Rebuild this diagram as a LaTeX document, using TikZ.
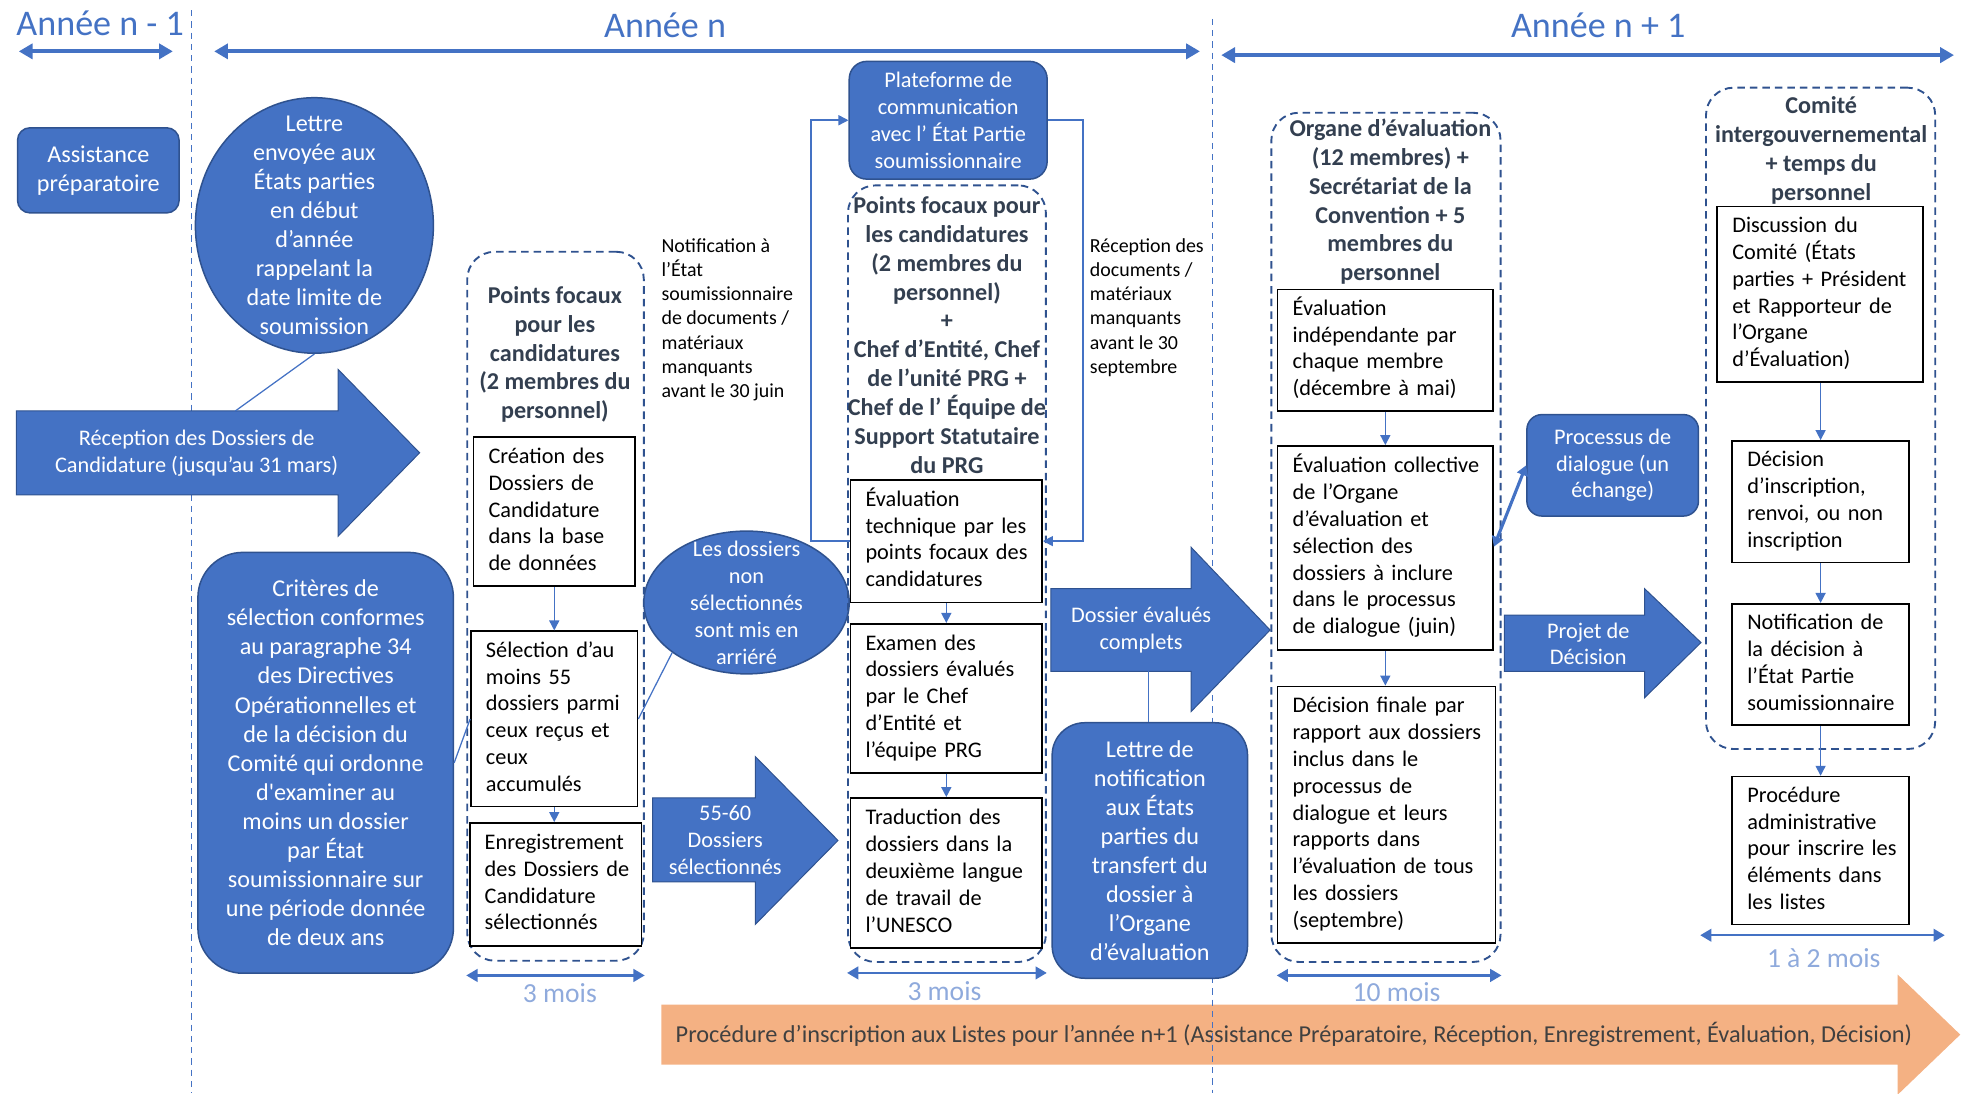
\documentclass[tikz,border=0pt]{standalone}
\usepackage{fontspec}
\setmainfont{Carlito}
\usetikzlibrary{arrows.meta,shapes.geometric}
\definecolor{ublue}{HTML}{4472C4}
\definecolor{udark}{HTML}{2F528F}
\definecolor{utitle}{HTML}{333F50}
\definecolor{ulight}{HTML}{8FAADC}
\definecolor{uorange}{HTML}{F4B183}
\definecolor{ugray}{HTML}{404040}
\newcommand{\rows}[1]{\noindent\begin{tabular}{@{}l@{}}#1\end{tabular}}
\begin{document}
\begin{tikzpicture}[x=1pt,y=-1pt,
yearlbl/.style={text=ublue,font=\fontsize{28.8}{33}\selectfont},
yearspan/.style={ublue,line width=3pt,{Triangle[length=11pt,width=12pt]}-{Triangle[length=11pt,width=12pt]}},
durspan/.style={ublue,line width=2pt,{Triangle[length=9pt,width=10pt]}-{Triangle[length=9pt,width=10pt]}},
durlbl/.style={text=ulight,font=\fontsize{22}{26}\selectfont},
divider/.style={ublue,line width=0.8pt,dash pattern=on 5pt off 4pt},
bluebox/.style={fill=ublue,draw=udark,line width=1.2pt,text=white,align=center,inner sep=0pt,font=\fontsize{17.8}{21.4}\selectfont},
bigfont/.style={font=\fontsize{19.3}{23.2}\selectfont},
blueoval/.style={ellipse,fill=ublue,draw=udark,line width=1.2pt,text=white,align=center,inner xsep=0pt,font=\fontsize{17.8}{21.5}\selectfont},
blockarrow/.style={fill=ublue,draw=udark,line width=0.8pt},
arrowtxt/.style={text=white,align=center,font=\fontsize{17.8}{21.6}\selectfont},
stepbox/.style={draw=black,line width=1.3pt,fill=white,align=left,inner xsep=12pt,inner ysep=0pt,font=\fontsize{17.8}{21.4}\selectfont},
group/.style={draw=udark,line width=1.5pt,dash pattern=on 6pt off 4pt,rounded corners=22pt},
grouptitle/.style={text=utitle,align=center,font=\fontsize{19.3}{23.1}\selectfont\bfseries},
note/.style={anchor=north west,align=left,inner sep=0pt,font=\fontsize{15.9}{19.4}\selectfont},
flow/.style={ublue,line width=1.2pt,-{Triangle[length=8pt,width=8pt]}},
link/.style={ublue,line width=1pt}]
\useasboundingbox(0,0)rectangle(1568,873);
\fill[uorange](528,802)--(1515,802)--(1515,778)--(1565,826)--(1515,874)--(1515,850)--(528,850)--cycle;
\node[text=ugray,font=\fontsize{19.4}{23}\selectfont](proc)at(1033,826){Procédure d’inscription aux Listes pour l’année n+1 (Assistance Préparatoire, Réception, Enregistrement, Évaluation, Décision)};
\draw[divider](153,8)--(153,873);
\draw[divider](968,15)--(968,873);
\node[yearlbl](yprev)at(80,19){Année n - 1};
\node[yearlbl](ycur)at(531,20){Année n};
\node[yearlbl](ynext)at(1276,20){Année n + 1};
\draw[yearspan](15,41)--(138,41);
\draw[yearspan](171,41)--(958,41);
\draw[yearspan](975,44)--(1560,44);
\node[bluebox,bigfont,rounded corners=10pt,minimum width=129pt,minimum height=68pt](prep)at(78.5,136){Assistance\\préparatoire};
\node[blueoval,bigfont,minimum width=190pt,minimum height=204pt,inner ysep=-25pt](letter)at(251,180){Lettre\\envoyée aux\\États parties\\en début\\d’année\\rappelant la\\date limite de\\soumission};
\draw[blockarrow](13,328)--(270,328)--(270,295)--(335,361.5)--(270,428)--(270,395)--(13,395)--cycle;
\node[arrowtxt](recv)at(157,362){Réception des Dossiers de\\Candidature (jusqu’au 31 mars)};
\coordinate(recvtop)at(188,328);
\draw[link](letter.south)--(recvtop);
\node[bluebox,bigfont,rounded corners=36pt,minimum width=204pt,minimum height=336pt](crit)at(260,609){Critères de\\sélection conformes\\au paragraphe 34\\des Directives\\Opérationnelles et\\de la décision du\\Comité qui ordonne\\d\textquotesingle examiner au\\moins un dossier\\par État\\soumissionnaire sur\\une période donnée\\de deux ans};
\node[group,minimum width=141pt,minimum height=566pt](grp1)at(443.5,484){};
\node[grouptitle](t1)at(443,283){Points focaux\\pour les\\candidatures\\(2 membres du\\personnel)};
\node[stepbox,minimum width=129pt,minimum height=119pt,text width=105pt](crea)at(442.5,408.5){\rows{Création des\\Dossiers de\\Candidature\\dans la base\\de données}};
\node[stepbox,minimum width=133pt,minimum height=140pt,text width=109pt](sele)at(442.5,574){\rows{Sélection d’au\\moins 55\\dossiers parmi\\ceux reçus et\\ceux\\accumulés}};
\node[stepbox,minimum width=137pt,minimum height=98pt,text width=113pt](enre)at(443.5,706){\rows{Enregistrement\\des Dossiers de\\Candidature\\sélectionnés}};
\draw[flow](crea)--(sele);
\draw[flow](sele.south)--(sele.south|-enre.north);
\draw[link](crit.east)--(sele.west);
\node[blueoval,minimum width=164pt,minimum height=114pt,inner ysep=-40pt](arr)at(596,481){Les dossiers\\non\\sélectionnés\\sont mis en\\arriéré};
\draw[link](sele.east)--(arr.214);
\node[note](miss1)at(528,190){Notification à\\l’État\\soumissionnaire\\de documents /\\matériaux\\manquants\\avant le 30 juin};
\draw[blockarrow](521,637)--(603,637)--(603,604)--(669,671)--(603,738)--(603,704)--(521,704)--cycle;
\node[arrowtxt](chosen)at(579,671){55-60\\Dossiers\\sélectionnés};
\node[bluebox,rounded corners=14pt,minimum width=158pt,minimum height=94pt](plat)at(757,96){Plateforme de\\communication\\avec l’ État Partie\\soumissionnaire};
\node[group,minimum width=158pt,minimum height=620pt](grp2)at(756,458){};
\node[grouptitle](t2)at(756,267.5){Points focaux pour\\les candidatures\\(2 membres du\\personnel)\\+\\Chef d’Entité, Chef\\de l’unité PRG +\\Chef de l’ Équipe de\\Support Statutaire\\du PRG};
\node[stepbox,minimum width=153pt,minimum height=98pt,text width=129pt](evtech)at(755.5,432){\rows{Évaluation\\technique par les\\points focaux des\\candidatures}};
\node[stepbox,minimum width=153pt,minimum height=119pt,text width=129pt](exam)at(755.5,557.5){\rows{Examen des\\dossiers évalués\\par le Chef\\d’Entité et\\l’équipe PRG}};
\node[stepbox,minimum width=153pt,minimum height=120pt,text width=129pt](trad)at(755.5,697){\rows{Traduction des\\dossiers dans la\\deuxième langue\\de travail de\\l’UNESCO}};
\draw[flow](evtech)--(exam);
\draw[flow](exam)--(trad);
\draw[flow](evtech.west)--++(-31,0)|-(plat.west);
\draw[flow](plat.east)--++(28,0)|-(evtech.east);
\node[note](miss2)at(870,190){Réception des\\documents /\\matériaux\\manquants\\avant le 30\\septembre};
\draw[blockarrow](839,470)--(951,470)--(951,437)--(1014,503)--(951,568)--(951,536)--(839,536)--cycle;
\node[arrowtxt](complete)at(911,503){Dossier évalués\\complets};
\coordinate(completefoot)at(917,536);
\node[bluebox,bigfont,rounded corners=26pt,minimum width=156pt,minimum height=204pt](lettre)at(918,679){Lettre de\\notification\\aux États\\parties du\\transfert du\\dossier à\\l’Organe\\d’évaluation};
\draw[link](completefoot)--(completefoot|-lettre.north);
\node[group,minimum width=183pt,minimum height=678pt](grp3)at(1106.5,429){};
\node[grouptitle](t3)at(1110,161){Organe d’évaluation\\(12 membres) +\\Secrétariat de la\\Convention + 5\\membres du\\personnel};
\node[stepbox,minimum width=172pt,minimum height=97pt,text width=148pt](evind)at(1106,279.5){\rows{Évaluation\\indépendante par\\chaque membre\\(décembre à mai)}};
\node[stepbox,minimum width=172pt,minimum height=163pt,text width=148pt](evcol)at(1106,437.5){\rows{Évaluation collective\\de l’Organe\\d’évaluation et\\sélection des\\dossiers à inclure\\dans le processus\\de dialogue (juin)}};
\node[stepbox,minimum width=174pt,minimum height=205pt,text width=150pt](decfin)at(1107,650.5){\rows{Décision finale par\\rapport aux dossiers\\inclus dans le\\processus de\\dialogue et leurs\\rapports dans\\l’évaluation de tous\\les dossiers\\(septembre)}};
\draw[flow](evind)--(evcol);
\draw[flow](evcol.south)--(evcol.south|-decfin.north);
\node[bluebox,rounded corners=12pt,minimum width=137pt,minimum height=81pt](dial)at(1287.5,371.5){Processus de\\dialogue (un\\échange)};
\draw[ublue,line width=2.5pt,{Triangle[length=8pt,width=9pt]}-{Triangle[length=8pt,width=9pt]}]([yshift=1pt]evcol.east)--(dial.west);
\draw[blockarrow](1201,491)--(1313,491)--(1313,470)--(1358,513)--(1313,557)--(1313,536)--(1201,536)--cycle;
\node[arrowtxt,font=\fontsize{17.8}{20.5}\selectfont](draft)at(1268,514){Projet de\\Décision};
\node[group,minimum width=183pt,minimum height=528pt](grp4)at(1453.5,334){};
\node[grouptitle](t4)at(1454,120){Comité\\intergouvernemental\\+ temps du\\personnel};
\node[stepbox,minimum width=164pt,minimum height=140pt,text width=140pt](disc)at(1453,235){\rows{Discussion du\\Comité (États\\parties + Président\\et Rapporteur de\\l’Organe\\d’Évaluation)}};
\node[stepbox,minimum width=141pt,minimum height=97pt,text width=117pt](decins)at(1453.5,400.5){\rows{Décision\\d’inscription,\\renvoi, ou non\\inscription}};
\node[stepbox,minimum width=141pt,minimum height=97pt,text width=117pt](notif)at(1453.5,530.5){\rows{Notification de\\la décision à\\l’État Partie\\soumissionnaire}};
\node[stepbox,minimum width=141pt,minimum height=118pt,text width=117pt](admin)at(1453.5,679){\rows{Procédure\\administrative\\pour inscrire les\\éléments dans\\les listes}};
\draw[flow](disc.south-|decins.north)--(decins.north);
\draw[flow](decins)--(notif);
\draw[flow](notif)--(admin);
\draw[durspan]([yshift=-11pt]grp1.south west)--([yshift=-11pt]grp1.south east);
\node[durlbl](d1)at(447,793){3 mois};
\draw[durspan]([yshift=-8pt]grp2.south west)--([yshift=-8pt]grp2.south east);
\node[durlbl](d2)at(754,791){3 mois};
\draw[durspan]([xshift=5pt,yshift=-10pt]grp3.south west)--([yshift=-10pt]grp3.south east);
\node[durlbl](d3)at(1115,792){10 mois};
\draw[durspan]([xshift=-25pt,yshift=-8pt]admin.south west)--([xshift=28pt,yshift=-8pt]admin.south east);
\node[durlbl](d4)at(1456,765){1 à 2 mois};
\end{tikzpicture}
\end{document}
